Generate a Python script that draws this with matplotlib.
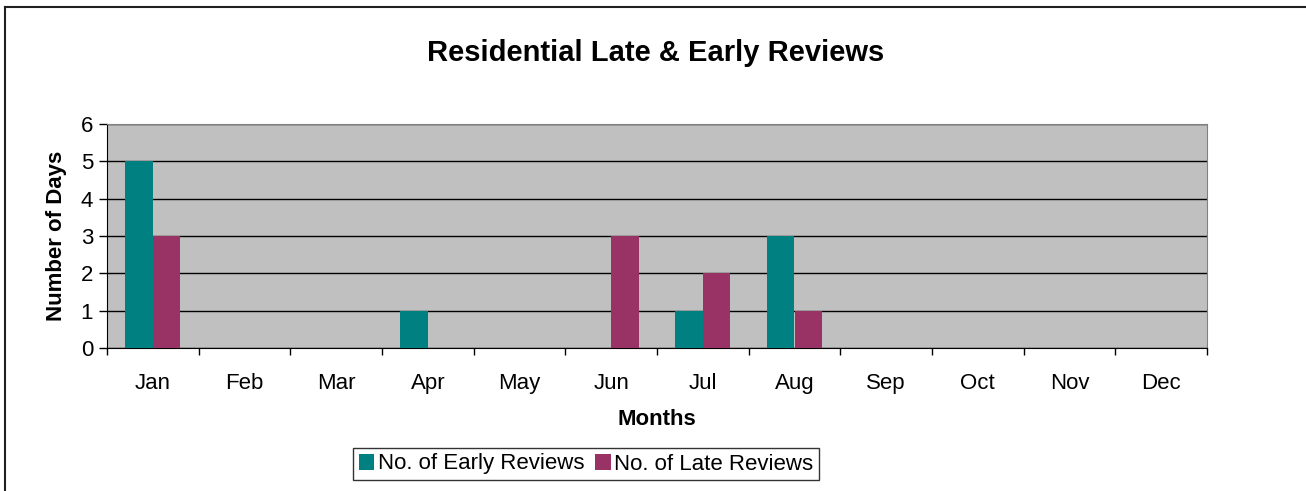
import matplotlib
matplotlib.use("Agg")
import matplotlib.pyplot as plt
import numpy as np
from matplotlib.lines import Line2D

months = ["Jan", "Feb", "Mar", "Apr", "May", "Jun",
          "Jul", "Aug", "Sep", "Oct", "Nov", "Dec"]
early_reviews = [5, 0, 0, 1, 0, 0, 1, 3, 0, 0, 0, 0]
late_reviews = [3, 0, 0, 0, 0, 3, 2, 1, 0, 0, 0, 0]

plt.rcParams["font.family"] = ["Liberation Sans", "DejaVu Sans"]

fig = plt.figure(figsize=(13.06, 4.91), dpi=100)
ax = fig.add_axes([107 / 1306, 1 - 348 / 491, 1100 / 1306, 224 / 491])

x = np.arange(len(months))
width = 0.3
ax.bar(x - width / 2, early_reviews, width, color="#008080",
       label="No. of Early Reviews", zorder=3)
ax.bar(x + width / 2, late_reviews, width, color="#993366",
       label="No. of Late Reviews", zorder=3)

ax.set_facecolor("#C0C0C0")
ax.set_xlim(-0.5, len(months) - 0.5)
ax.set_ylim(0, 6)
ax.set_yticks(range(7))
ax.yaxis.grid(True, color="black", linewidth=1, zorder=1)
ax.set_axisbelow(True)

# category labels centred, ticks on boundaries
ax.set_xticks(x)
ax.set_xticklabels(months, fontsize=16)
ax.set_xticks(np.arange(-0.5, len(months)), minor=True)
ax.tick_params(axis="x", which="major", length=0, pad=18)
ax.tick_params(axis="x", which="minor", length=5, width=1, direction="out")
ax.tick_params(axis="y", length=6, width=1, labelsize=16, pad=4)

for side in ("top", "right"):
    ax.spines[side].set_color("#808080")
for side in ("left", "bottom"):
    ax.spines[side].set_color("black")

ax.set_xlabel("Months", fontsize=16, fontweight="bold", labelpad=11)
ax.set_ylabel("Number of Days", fontsize=16, fontweight="bold", labelpad=10)

fig.text(656 / 1306, 1 - 53 / 491, "Residential Late & Early Reviews",
         ha="center", va="center", fontsize=21, fontweight="bold")

leg = fig.legend(loc="center", bbox_to_anchor=(586 / 1306, 1 - 464 / 491),
                 ncol=2, fontsize=16, frameon=True, fancybox=False,
                 edgecolor="black", handlelength=0.7, handleheight=0.7,
                 handletextpad=0.15, columnspacing=0.5, borderpad=0.25,
                 borderaxespad=0)
leg.get_frame().set_linewidth(1)

# outer chart border (only top and left edges are visible in the crop)
fig.add_artist(Line2D([5 / 1306, 5 / 1306], [0, 1 - 7 / 491],
                      transform=fig.transFigure, color="#202020", linewidth=1.5))
fig.add_artist(Line2D([5 / 1306, 1], [1 - 7 / 491, 1 - 7 / 491],
                      transform=fig.transFigure, color="#202020", linewidth=1.5))

fig.savefig("out.png", dpi=100)
